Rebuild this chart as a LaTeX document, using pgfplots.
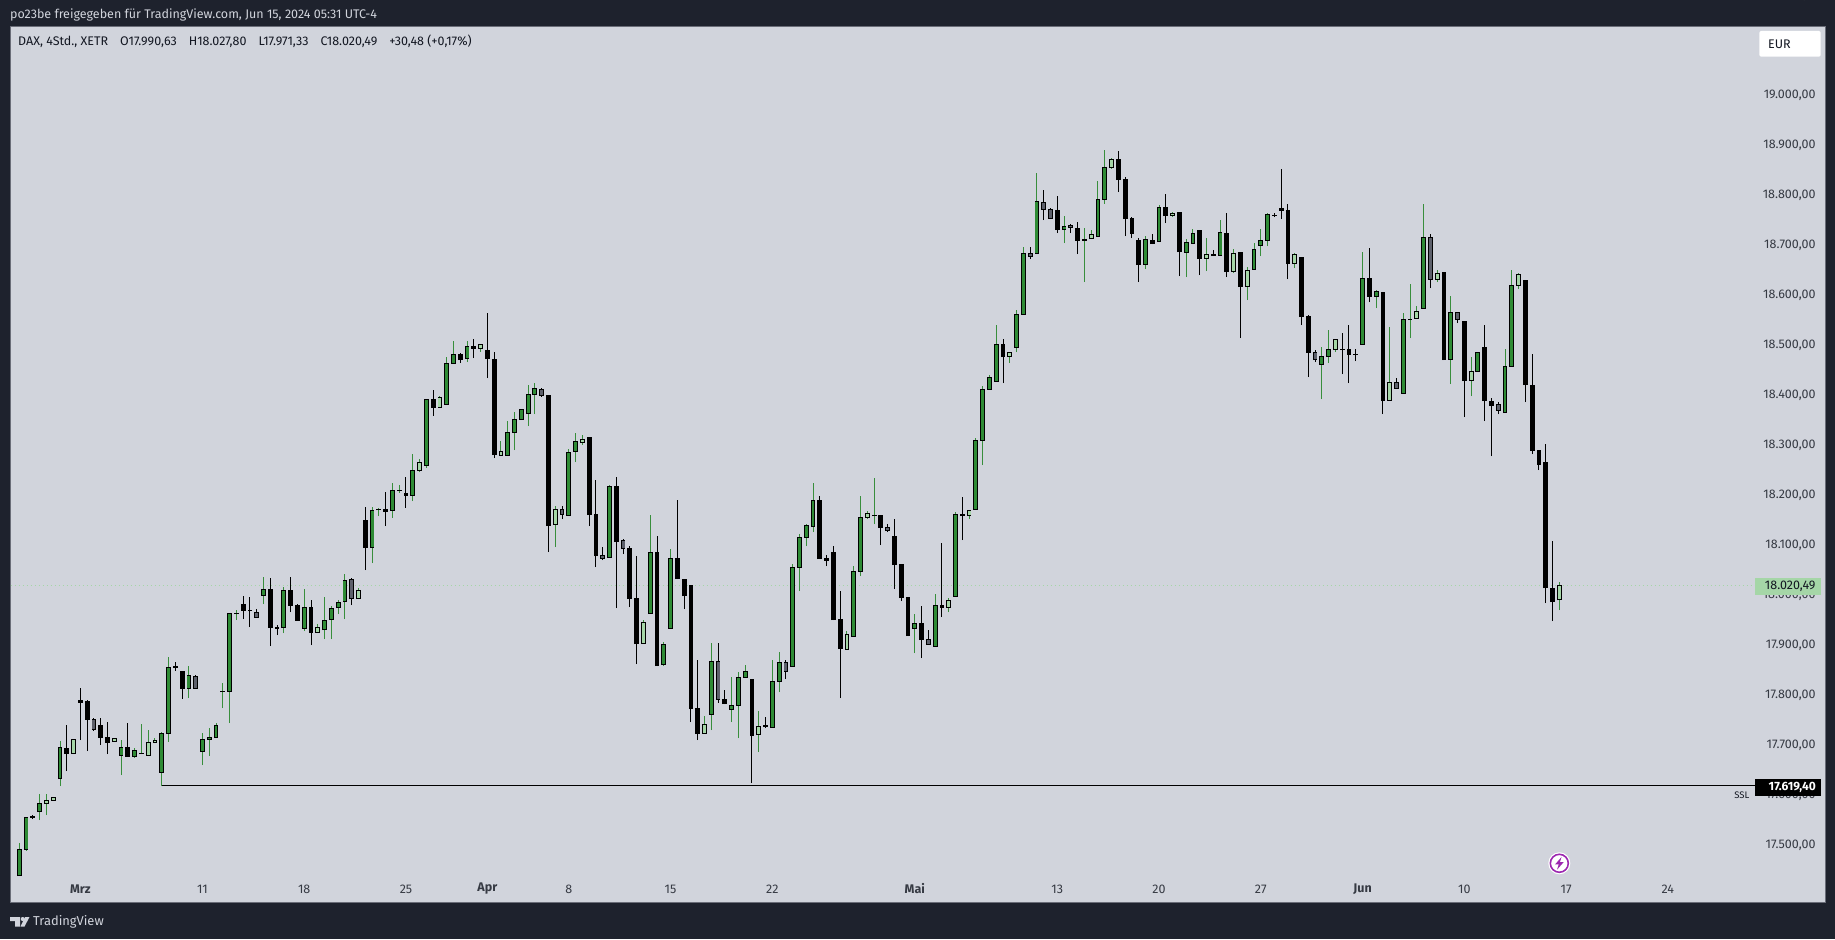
\documentclass[border=0pt]{standalone}
\usepackage{fontspec}
\setmainfont{Fira Sans}
\usepackage{pgfplots}
\usepackage{pgfplotstable}
\pgfplotsset{compat=1.18}
\definecolor{frameDark}{HTML}{1E222D}
\definecolor{panel}{HTML}{D1D4DC}
\definecolor{borderc}{HTML}{6A6D78}
\definecolor{upd}{HTML}{2E8B35}
\definecolor{wickg}{HTML}{388E3C}
\definecolor{upl}{HTML}{A5D6A7}
\definecolor{downg}{HTML}{5D606B}
\definecolor{txt}{HTML}{131722}
\definecolor{purp}{HTML}{9C27B0}

\pgfplotstableread{
i o h l c
0 17439 17505 17439 17493
1 17492 17557 17490 17557
3 17567 17603 17551 17585
6 17633 17709 17619 17697
15 17680 17711 17641 17697
17 17678 17695 17676 17691
18 17683 17743 17683 17685
21 17646 17727 17619 17725
22 17724 17877 17708 17857
25 17814 17859 17795 17841
27 17688 17725 17661 17713
28 17712 17735 17679 17717
29 17716 17745 17716 17741
30 17807 17825 17775 17809
31 17808 17965 17745 17965
32 17963 17971 17951 17965
36 18000 18037 17983 18013
39 17936 18017 17925 18011
42 17934 18013 17929 17977
45 17931 17997 17913 17952
46 17952 17979 17913 17975
47 17975 17991 17963 17987
48 17987 18043 17953 18031
52 18096 18177 18065 18171
53 18171 18175 18159 18173
55 18170 18225 18156 18211
56 18209 18221 18206 18211
58 18200 18283 18189 18251
60 18260 18393 18256 18393
63 18382 18477 18382 18465
64 18464 18509 18464 18483
66 18474 18509 18467 18499
72 18280 18349 18280 18327
73 18326 18367 18291 18353
74 18352 18373 18352 18373
75 18364 18421 18339 18403
76 18402 18425 18363 18415
81 18160 18293 18160 18287
82 18288 18325 18267 18309
87 18076 18221 18076 18219
93 17964 18161 17964 18087
95 17862 17907 17859 17903
96 17934 18093 17934 18075
102 17762 17905 17731 17869
105 17772 17837 17747 17781
106 17780 17847 17715 17837
107 17836 17861 17836 17849
111 17736 17871 17736 17829
112 17828 17887 17807 17867
114 17858 18063 17858 18057
115 18056 18123 18009 18117
116 18116 18143 18099 18141
117 18138 18225 18127 18191
123 17918 18059 17918 18049
124 18048 18199 18039 18157
126 18159 18235 18143 18161
132 17934 17963 17885 17945
135 17898 18003 17898 17981
138 17998 18167 17998 18163
141 18172 18315 18172 18311
142 18310 18419 18261 18413
143 18412 18441 18412 18437
144 18428 18541 18428 18503
147 18496 18571 18487 18563
148 18562 18697 18562 18685
150 18684 18845 18684 18789
154 18732 18759 18705 18739
157 18710 18735 18627 18713
159 18718 18829 18718 18793
160 18792 18891 18784 18857
166 18662 18719 18653 18713
168 18708 18781 18708 18777
172 18686 18713 18637 18707
173 18704 18733 18704 18725
177 18680 18751 18680 18727
182 18652 18705 18652 18693
183 18700 18733 18679 18711
184 18710 18765 18699 18763
192 18462 18497 18393 18479
193 18478 18531 18465 18493
198 18502 18687 18502 18635
200 18598 18611 18575 18609
204 18404 18565 18404 18553
205 18551 18623 18515 18553
207 18574 18783 18574 18717
211 18472 18599 18423 18567
215 18448 18487 18448 18487
219 18366 18493 18366 18459
220 18458 18651 18458 18621
}\tG

\pgfplotstableread{
i o h l c
4 17584 17603 17561 17591
5 17590 17598 17590 17598
8 17684 17714 17683 17713
14 17708 17715 17708 17715
19 17680 17731 17680 17707
20 17706 17715 17705 17711
44 17926 17943 17926 17937
50 17993 18015 17993 18011
59 18249 18273 18247 18267
62 18376 18399 18376 18397
68 18494 18503 18488 18503
71 18280 18309 18280 18289
79 18142 18179 18097 18173
83 18306 18321 18302 18313
92 17904 17951 17904 17947
101 17724 17759 17724 17743
109 17722 17769 17687 17739
122 17892 17929 17892 17923
125 18156 18169 18153 18165
137 17976 17995 17967 17991
140 18160 18171 18153 18171
146 18478 18487 18465 18487
158 18713 18731 18713 18723
161 18856 18875 18854 18873
170 18760 18767 18757 18765
175 18674 18715 18649 18683
179 18647 18693 18645 18685
181 18618 18657 18591 18651
188 18664 18685 18655 18683
194 18491 18513 18487 18513
202 18390 18537 18390 18427
206 18554 18579 18554 18569
209 18632 18651 18627 18645
214 18430 18477 18399 18449
221 18620 18645 18613 18643
227 17990.63 18027.80 17971.33 18020.49
}\tL

\pgfplotstableread{
i o h l c
11 17753 17755 17730 17732
26 17839 17841 17814 17814
35 17967 17973 17956 17956
49 18033 18035 17981 17993
77 18413 18415 18398 18400
80 18173 18179 18153 18162
86 18081 18097 18071 18074
89 18111 18113 18083 18094
103 17869 17905 17786 17792
113 17867 17871 17833 17848
128 18137 18143 18127 18129
134 17913 17931 17902 17902
149 18685 18697 18673 18678
151 18787 18811 18751 18772
152 18773 18775 18754 18754
155 18741 18743 18725 18736
191 18487 18491 18467 18471
203 18427 18435 18414 18414
208 18717 18723 18615 18632
212 18567 18567 18545 18552
218 18383 18387 18363 18370
}\tY

\pgfplotstableread{
i o h l c
2 17559 17561 17553 17555
7 17695 17741 17649 17684
9 17791 17815 17711 17786
10 17789 17791 17689 17752
12 17741 17755 17701 17716
13 17717 17747 17683 17706
16 17697 17745 17678 17678
23 17859 17867 17850 17855
24 17849 17849 17794 17814
33 17983 17999 17953 17970
34 17971 17997 17937 17969
37 18013 18035 17899 17936
38 17937 17941 17921 17934
40 18011 18037 17967 17980
41 17981 17983 17950 17950
43 17977 17991 17901 17926
51 18151 18177 18051 18096
54 18173 18207 18139 18168
57 18205 18237 18176 18200
61 18393 18411 18360 18376
65 18483 18485 18466 18471
67 18499 18513 18475 18494
69 18491 18565 18435 18473
70 18473 18487 18275 18281
78 18401 18401 18087 18139
84 18317 18317 18139 18161
85 18163 18231 18057 18079
88 18219 18237 17975 18107
90 18095 18099 17977 17993
91 17995 18079 17863 17903
94 18087 18119 17859 17859
97 18075 18191 18033 18033
98 18033 18033 17973 17999
99 18021 18021 17747 17773
100 17775 17871 17711 17723
104 17793 17811 17783 17783
108 17833 17833 17625 17719
110 17741 17757 17735 17737
118 18191 18199 18073 18073
119 18075 18081 18059 18070
120 18087 18099 17951 17951
121 17953 18009 17795 17893
127 18161 18161 18101 18136
129 18119 18153 18013 18061
130 18063 18063 17989 17995
131 17997 17997 17919 17919
133 17945 17979 17875 17911
136 17981 18105 17957 17976
139 18163 18197 18111 18159
145 18503 18513 18425 18477
153 18771 18799 18725 18731
156 18735 18747 18683 18710
162 18873 18889 18807 18831
163 18833 18837 18719 18753
164 18755 18757 18715 18723
165 18711 18715 18627 18661
167 18711 18723 18703 18703
169 18777 18803 18745 18759
171 18767 18767 18639 18687
174 18731 18731 18641 18673
176 18683 18691 18679 18679
178 18725 18765 18637 18647
180 18687 18687 18515 18617
185 18761 18765 18757 18759
186 18775 18853 18753 18770
187 18771 18783 18633 18663
189 18677 18677 18541 18557
190 18559 18561 18437 18485
195 18493 18525 18443 18491
196 18493 18541 18425 18482
197 18483 18493 18469 18481
199 18635 18695 18587 18598
201 18607 18607 18363 18389
210 18647 18647 18471 18471
213 18549 18549 18357 18429
216 18497 18541 18349 18389
217 18389 18395 18279 18379
222 18631 18631 18387 18421
223 18421 18483 18283 18289
224 18291 18291 18251 18261
225 18267 18303 17985 18015
226 18015 18109 17949 17987
}\tB

\pgfplotsset{
  barstyle/.style n args={2}{no marks, draw=none, forget plot,
    error bars/y dir=plus, error bars/y explicit, error bars/error mark=none,
    error bars/error bar style={draw=#1, line width=#2}},
  /pgfplots/table/wicktab/.style={x=i, y=l, y error plus expr=\thisrow{h}-\thisrow{l}},
  /pgfplots/table/bodytab/.style={x=i, y expr={min(\thisrow{o},\thisrow{c})}, y error plus expr={abs(\thisrow{c}-\thisrow{o})}},
  /pgfplots/table/filltab/.style={x=i, y expr={min(\thisrow{o},\thisrow{c})+2}, y error plus expr={max(abs(\thisrow{c}-\thisrow{o})-4,0)}},
}

\begin{document}
\begin{tikzpicture}
\path[use as bounding box] (0,0) rectangle (1835pt,939pt);
\fill[frameDark] (0,0) rectangle (1835pt,939pt);
\fill[panel] (10.5pt,36pt) rectangle (1825pt,912pt);
\begin{axis}[
  at={(10.5pt,36pt)}, anchor=south west,
  scale only axis, width=1814.5pt, height=876pt,
  xmin=-1.297, xmax=266.17, ymin=17385.4, ymax=19137.4,
  axis line style={draw=borderc, line width=1pt},
  major tick length=0pt,
  ytick={17500,17600,17700,17800,17900,18000,18100,18200,18300,18400,18500,18600,18700,18800,18900,19000},
  yticklabels={{17.500,00},{17.600,00},{17.700,00},{17.800,00},{17.900,00},{18.000,00},{18.100,00},{18.200,00},{18.300,00},{18.400,00},{18.500,00},{18.600,00},{18.700,00},{18.800,00},{18.900,00},{19.000,00}},
  yticklabel pos=right,
  yticklabel style={anchor=east, xshift=-9.3pt, inner sep=0pt, text=txt!85, font=\fontsize{12.5}{14}\selectfont},
  xtick={9,27,42,57,69,81,96,111,132,153,168,183,198,213,228,243},
  xticklabels={\textbf{Mrz},11,18,25,\textbf{Apr},8,15,22,\textbf{Mai},13,20,27,\textbf{Jun},10,17,24},
  xticklabel style={anchor=center, yshift=14pt, inner sep=0pt, text=txt!85, font=\fontsize{12.5}{14}\selectfont},
  clip=true,
]
% last-price dotted line and the SSL line
\addplot[forget plot, upl, line width=0.8pt, dash pattern=on 1pt off 3pt] coordinates {(-1.297,18020.49) (256.5,18020.49)};
\addplot[forget plot, black, line width=1pt] coordinates {(21,17619.4) (256.5,17619.4)};
% wicks
\addplot[barstyle={wickg}{1pt}] table[wicktab] {\tG};
\addplot[barstyle={wickg}{1pt}] table[wicktab] {\tL};
\addplot[barstyle={black}{1pt}] table[wicktab] {\tY};
\addplot[barstyle={black}{1pt}] table[wicktab] {\tB};
% bodies: dark outline, then fill
\addplot[barstyle={black}{4.8pt}] table[bodytab] {\tG};
\addplot[barstyle={black}{4.8pt}] table[bodytab] {\tL};
\addplot[barstyle={black}{4.8pt}] table[bodytab] {\tY};
\addplot[barstyle={black}{4.8pt}] table[bodytab] {\tB};
\addplot[barstyle={upd}{2.9pt}] table[filltab] {\tG};
\addplot[barstyle={upl}{2.9pt}] table[filltab] {\tL};
\addplot[barstyle={downg}{2.9pt}] table[filltab] {\tY};
\end{axis}
\begin{scope}[x=1pt,y=-1pt,yshift=939pt]
  \node[anchor=west, inner sep=0, text=panel, font=\fontsize{12.5}{14}\selectfont] at (10,15) {po23be freigegeben für TradingView.com, Jun 15, 2024 05:31 UTC-4};
  \node[anchor=west, inner sep=0, text=txt, font=\fontsize{12.5}{14}\selectfont] at (18,41.5) {DAX, 4Std., XETR\hspace{12pt}O17.990,63\hspace{12pt}H18.027,80\hspace{12pt}L17.971,33\hspace{12pt}C18.020,49\hspace{12pt}+30,48 (+0,17\%)};
  % currency box
  \fill[white, rounded corners=2pt] (1759.3,31) rectangle (1820.7,56.7);
  \node[anchor=west, inner sep=0, text=txt, font=\fontsize{12.5}{14}\selectfont] at (1768,44) {EUR};
  % price labels
  \fill[upl] (1755,577.7) rectangle (1821,594.7);
  \node[anchor=east, inner sep=0, text=txt, font=\fontsize{12.5}{14}\selectfont] at (1815.7,586) {18.020,49};
  \fill[black] (1755,779) rectangle (1821,796);
  \node[anchor=east, inner sep=0, text=white, font=\fontsize{12}{14}\selectfont\bfseries] at (1816,787) {17.619,40};
  \node[anchor=east, inner sep=0, text=txt, font=\fontsize{9.5}{11}\selectfont] at (1749.5,795.7) {SSL};
  % event icon
  \fill[white] (1559.3,863.3) circle (11);
  \draw[purp, line width=1.6pt] (1559.3,863.3) circle (9);
  \fill[purp] (1561.5,857) -- (1555,864.5) -- (1558.7,864.5) -- (1557,869.7) -- (1563.6,862.2) -- (1559.9,862.2) -- cycle;
  % footer
  \fill[panel] (10,917) -- (20,917) -- (20,926.5) -- (15,926.5) -- (15,921) -- (10,921) -- cycle;
  \fill[panel] (22.7,919) circle (2);
  \fill[panel] (25,917) -- (29.5,917) -- (24.5,926.5) -- (20.5,926.5) -- cycle;
  \node[anchor=west, inner sep=0, text=panel, font=\fontsize{12.9}{15}\selectfont] at (33,921.5) {TradingView};
\end{scope}
\end{tikzpicture}
\end{document}
